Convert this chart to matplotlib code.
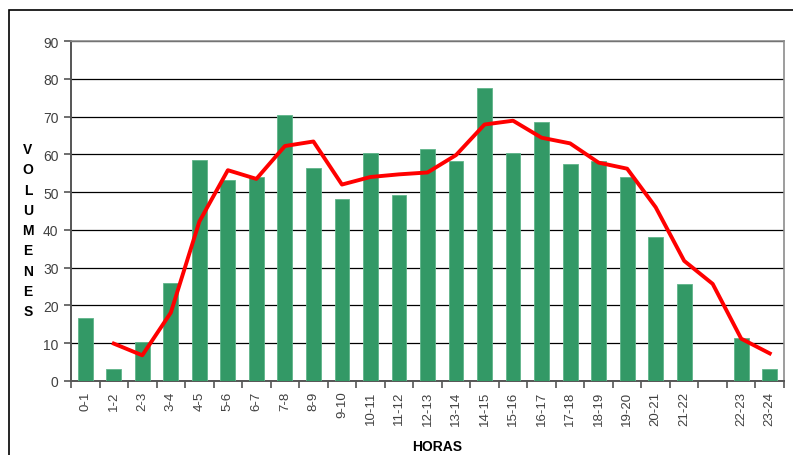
import numpy as np
import matplotlib
matplotlib.use("Agg")
import matplotlib.pyplot as plt
from matplotlib.patches import Rectangle

plt.rcParams["font.family"] = ["Liberation Sans", "DejaVu Sans"]

# hour ranges (one empty slot between 21-22 and 22-23, as in the source sheet)
horas = ["0-1", "1-2", "2-3", "3-4", "4-5", "5-6", "6-7", "7-8", "8-9", "9-10",
         "10-11", "11-12", "12-13", "13-14", "14-15", "15-16", "16-17", "17-18",
         "18-19", "19-20", "20-21", "21-22", "", "22-23", "23-24"]
volumenes = [16.7, 3.2, 10.4, 25.9, 58.5, 53.2, 53.9, 70.5, 56.4, 48.3,
             60.3, 49.2, 61.3, 58.3, 77.6, 60.3, 68.5, 57.4,
             58.3, 54.1, 38.0, 25.7, 0.0, 11.4, 3.2]
# red trend line (moving average)
tendencia = [np.nan, 9.9, 6.8, 18.1, 42.2, 55.8, 53.5, 62.2, 63.4, 52.0,
             54.0, 54.7, 55.2, 59.8, 67.9, 68.9, 64.4, 62.9,
             57.8, 56.2, 46.0, 31.8, 25.7, 11.2, 7.3]

fig = plt.figure(figsize=(7.93, 4.56), dpi=100)
# outer chart frame
fig.patches.append(Rectangle((9 / 793, -0.1), 1.2, 1 - 11 / 456 + 0.1,
                             transform=fig.transFigure, fill=False,
                             edgecolor="black", linewidth=1.2))

ax = fig.add_axes([71 / 793, 74 / 456, 713 / 793, 340 / 456])
x = np.arange(len(horas))

ax.bar(x, volumenes, width=0.52, color="#339966", edgecolor="#5fb58a",
       linewidth=0.6, zorder=3)
ax.plot(x, tendencia, color="#ff0000", linewidth=2.8, zorder=4)

ax.set_xlim(-0.5, len(horas) - 0.5)
ax.set_ylim(0, 90)
ax.set_yticks(np.arange(0, 91, 10))
ax.yaxis.grid(True, color="black", linewidth=0.9, zorder=1)
ax.set_axisbelow(True)

ax.set_xticks(x)
ax.set_xticklabels(horas, rotation=90)
ax.set_xticks(np.arange(-0.5, len(horas), 1), minor=True)
ax.tick_params(axis="x", which="major", length=0, pad=7,
               labelsize=9.5, labelcolor="#404040")
ax.tick_params(axis="x", which="minor", length=5, width=1.2, color="#555555")
ax.tick_params(axis="y", length=5, width=1.2, color="#555555",
               labelsize=10, labelcolor="#404040", pad=4)

for side in ["top", "right"]:
    ax.spines[side].set_color("#8c8c8c")
    ax.spines[side].set_linewidth(1.2)
for side in ["left", "bottom"]:
    ax.spines[side].set_color("#555555")
    ax.spines[side].set_linewidth(1.4)

# stacked vertical axis title
letras = "VOLUMENES"
for i, letra in enumerate(letras):
    fig.text(28 / 793, 1 - (150 + i * 20.3) / 456, letra, ha="center",
             va="center", fontsize=10, fontweight="bold")

fig.text(437 / 793, 1 - 447 / 456, "HORAS", ha="center", va="center",
         fontsize=10, fontweight="bold")

fig.savefig("out.png", dpi=100)
